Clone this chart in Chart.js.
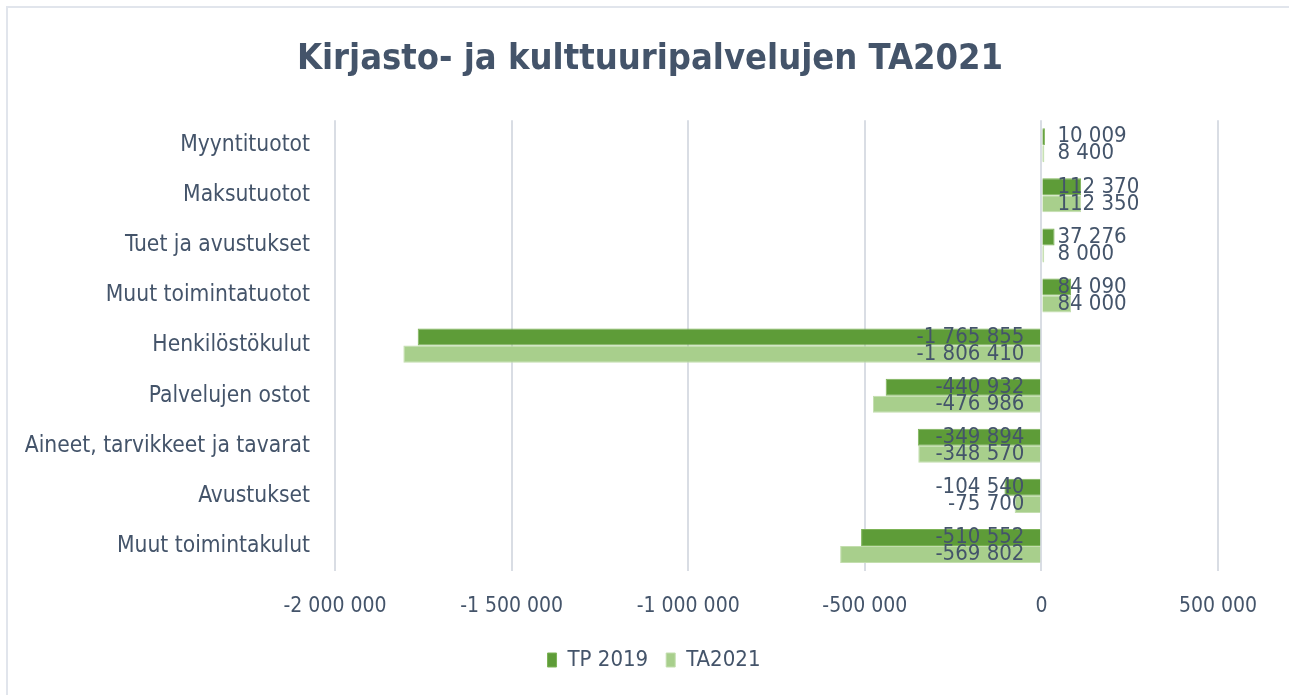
<!DOCTYPE html>
<html>
<head>
<meta charset="utf-8">
<script src="https://cdn.jsdelivr.net/npm/chart.js@4/dist/chart.umd.min.js"></script>
<style>
  body { margin: 0; background: #fff; }
  #kehys { position: absolute; left: 6px; top: 6px; width: 1300px; height: 700px;
           border-left: 2px solid #e1e5ec; border-top: 2px solid #e1e5ec; }
  #wrap { position: absolute; left: 0; top: 0; width: 1289px; height: 695px; }
</style>
</head>
<body>
<div id="kehys"></div>
<div id="wrap"><canvas id="grafico"></canvas></div>
<script>
// datos
const categorias = ['Myyntituotot', 'Maksutuotot', 'Tuet ja avustukset', 'Muut toimintatuotot',
    'Henkilöstökulut', 'Palvelujen ostot', 'Aineet, tarvikkeet ja tavarat', 'Avustukset', 'Muut toimintakulut'];
const tp2019 = [10009, 112370, 37276, 84090, -1765855, -440932, -349894, -104540, -510552];
const ta2021 = [8400, 112350, 8000, 84000, -1806410, -476986, -348570, -75700, -569802];
const ticksX = [-2000000, -1500000, -1000000, -500000, 0, 500000];

const fuente = "'Liberation Sans Narrow', 'DejaVu Sans Condensed', Lato, sans-serif";
const colorTexto = '#44546a';

const formato = (n) => {
    const s = Math.abs(n).toString().replace(/\B(?=(\d{3})+(?!\d))/g, ' ');
    return (n < 0 ? '-' : '') + s;
}

// etiquetas de datos junto al eje cero
const etiquetasPlugin = {
    id: 'etiquetas',
    afterLayout(chart) {
        // centrar titulo y leyenda como en el original
        chart.titleBlock.left += 41;
        chart.titleBlock.right += 41;
        chart.legend.left += 45;
        chart.legend.right += 45;
    },
    afterDatasetsDraw(chart) {
        const ctx = chart.ctx;
        const x0 = chart.scales.x.getPixelForValue(0);
        ctx.save();
        ctx.font = '22px ' + fuente;
        ctx.fillStyle = colorTexto;
        ctx.textBaseline = 'middle';
        chart.data.datasets.forEach((ds, i) => {
            const meta = chart.getDatasetMeta(i);
            meta.data.forEach((bar, j) => {
                const v = ds.data[j];
                if (v >= 0) {
                    ctx.textAlign = 'left';
                    ctx.fillText(formato(v), x0 + 16, bar.y);
                } else {
                    ctx.textAlign = 'right';
                    ctx.fillText(formato(v), x0 - 17, bar.y);
                }
            });
        });
        ctx.restore();
    }
};

const grafico = new Chart(document.getElementById('grafico').getContext('2d'), {
    type: 'bar',
    data: {
        labels: categorias,
        datasets: [
            {
                label: 'TP 2019',
                data: tp2019,
                backgroundColor: '#5e9c38',
                borderColor: '#7cb356',
                borderWidth: 1,
                categoryPercentage: 0.68,
                barPercentage: 1.0
            },
            {
                label: 'TA2021',
                data: ta2021,
                backgroundColor: '#a8cf8c',
                borderColor: '#c3deae',
                borderWidth: 1,
                categoryPercentage: 0.68,
                barPercentage: 1.0
            }
        ]
    },
    options: {
        indexAxis: 'y',
        responsive: true,
        maintainAspectRatio: false,
        animation: false,
        layout: { padding: { left: 0, right: 71, top: 0, bottom: 14 } },
        scales: {
            x: {
                min: -2000000,
                max: 500000,
                afterBuildTicks: (scale) => { scale.ticks = ticksX.map(v => ({ value: v })); },
                afterFit: (scale) => { scale.height = 60; },
                grid: { color: '#d9dde4', lineWidth: 2, drawTicks: false },
                border: { display: false },
                ticks: {
                    color: colorTexto,
                    font: { family: fuente, size: 21 },
                    padding: 23,
                    maxRotation: 0,
                    callback: (v) => formato(v)
                }
            },
            y: {
                afterFit: (scale) => { scale.width = 335; },
                grid: { display: false },
                border: { display: false },
                ticks: {
                    color: colorTexto,
                    font: { family: fuente, size: 22.6 },
                    padding: 17
                }
            }
        },
        plugins: {
            title: {
                display: true,
                text: 'Kirjasto- ja kulttuuripalvelujen TA2021',
                color: colorTexto,
                font: { family: fuente, size: 36, weight: 'bold' },
                padding: { top: 38, bottom: 39 }
            },
            legend: {
                position: 'bottom',
                labels: {
                    color: colorTexto,
                    font: { family: fuente, size: 22 },
                    boxWidth: 9,
                    boxHeight: 14,
                    padding: 18
                }
            },
            tooltip: { enabled: false }
        }
    },
    plugins: [etiquetasPlugin]
});
</script>
</body>
</html>
